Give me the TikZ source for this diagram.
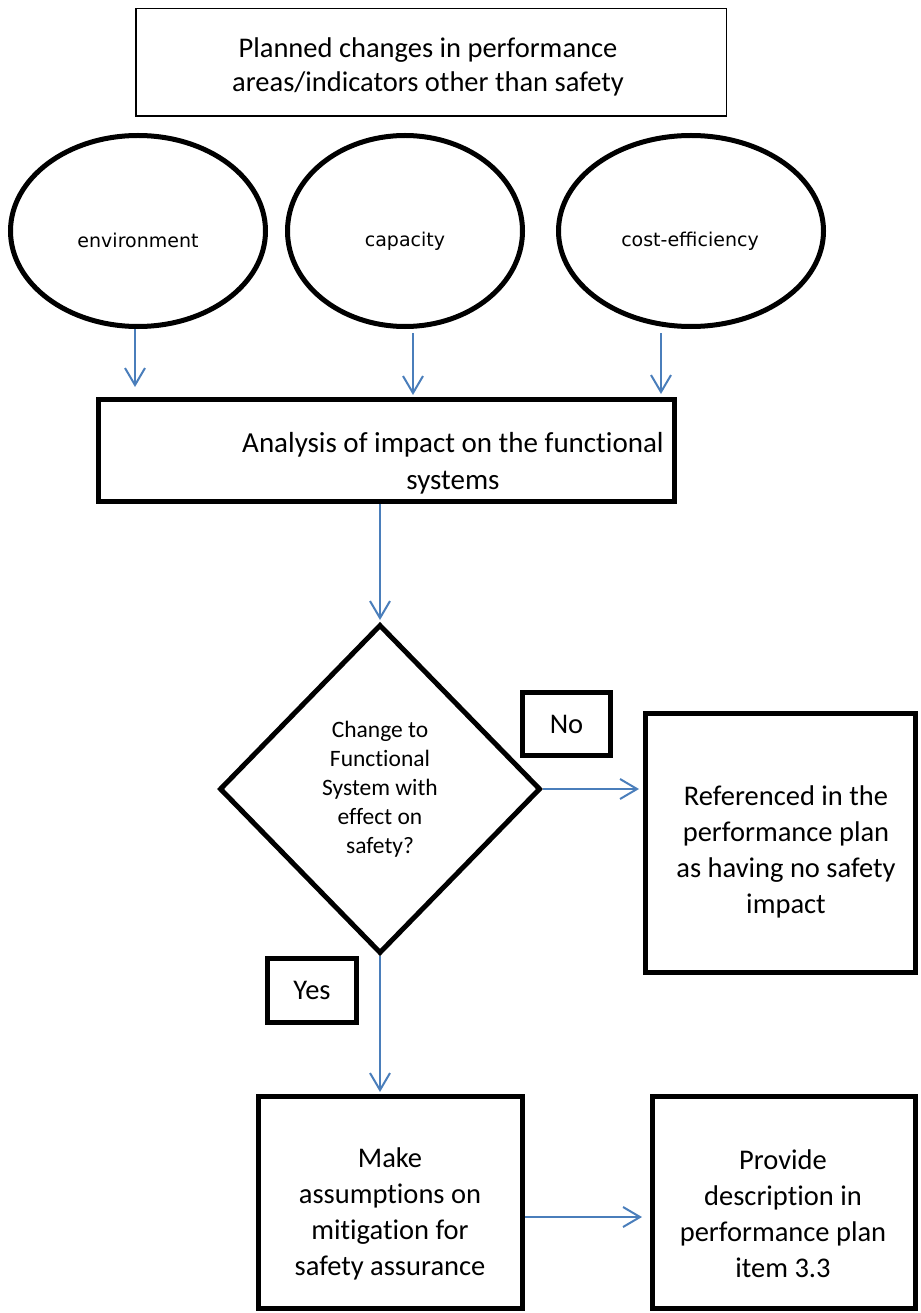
\documentclass[tikz,border=0pt]{standalone}
\usepackage{fontspec}
\setmainfont{Carlito}[Ligatures=NoCommon]
\newfontfamily\ovalfont{DejaVu Sans}
\usetikzlibrary{shapes.geometric,arrows.meta}
\pgfdeclarelayer{edgelayer}
\pgfdeclarelayer{nodelayer}
\pgfsetlayers{edgelayer,nodelayer,main}
\definecolor{flowblue}{RGB}{74,126,187}
\tikzstyle{none}=[inner sep=0pt]
\tikzstyle{thinbox}=[draw,line width=1.5pt,inner sep=0pt]
\tikzstyle{box}=[draw,line width=5pt,inner sep=0pt]
\tikzstyle{oval}=[ellipse,draw,line width=5pt,inner sep=0pt,minimum height=191pt]
\tikzstyle{decision}=[diamond,draw,line width=5pt,inner sep=0pt,align=center,font=\fontsize{23.5}{29}\selectfont]
\tikzstyle{bigtext}=[inner sep=0pt,align=center,font=\fontsize{28.5}{36}\selectfont]
\tikzstyle{ovaltext}=[inner sep=0pt,font=\ovalfont\fontsize{19}{23}\selectfont]
\tikzstyle{flow}=[draw=flowblue,line width=2pt,-{Straight Barb[length=17pt,width=20pt]}]

\begin{document}
\begin{tikzpicture}[x=1pt,y=-1pt]
	\useasboundingbox (0,0) rectangle (920,1313);
	\begin{pgfonlayer}{nodelayer}
		\node [style=thinbox, minimum width=590.5pt, minimum height=107.5pt] (0) at (431, 62.5) {};
		\node [style=bigtext, font=\fontsize{28.5}{34}\selectfont] (1) at (428, 67) {Planned changes in performance\\areas/indicators other than safety};
		\node [style=oval, minimum width=255pt] (2) at (138, 231) {};
		\node [style=ovaltext] (3) at (138, 240) {environment};
		\node [style=oval, minimum width=235pt] (4) at (405, 231) {};
		\node [style=ovaltext] (5) at (405, 241) {capacity};
		\node [style=oval, minimum width=265pt] (6) at (691, 231) {};
		\node [style=ovaltext] (7) at (690, 241) {cost-efficiency};
		\node [style=box, minimum width=576pt, minimum height=102pt] (8) at (386.5, 450.5) {};
		\node [style=bigtext, font=\fontsize{29}{37}\selectfont] (9) at (453, 463) {Analysis of impact on the functional\\systems};
		\node [style=decision, minimum width=321pt, minimum height=329pt] (10) at (380, 789) {Change to\\Functional\\System with\\effect on\\safety?};
		\node [style=box, minimum width=88pt, minimum height=63pt, style=bigtext] (11) at (566.5, 724) {No};
		\node [style=box, minimum width=270pt, minimum height=259pt] (12) at (780.5, 843) {};
		\node [style=bigtext] (13) at (786, 852) {Referenced in the\\performance plan\\as having no safety\\impact};
		\node [style=box, minimum width=89pt, minimum height=64pt, style=bigtext] (14) at (312, 990.5) {Yes};
		\node [style=box, minimum width=264pt, minimum height=212pt] (15) at (390.5, 1202.5) {};
		\node [style=bigtext] (16) at (390, 1214) {Make\\assumptions on\\mitigation for\\safety assurance};
		\node [style=box, minimum width=263pt, minimum height=212pt] (17) at (784, 1202.5) {};
		\node [style=bigtext] (18) at (783, 1214) {Provide\\description in\\performance plan\\item 3.3};
	\end{pgfonlayer}
	\begin{pgfonlayer}{edgelayer}
		\draw [style=flow, shorten >=10pt] ([xshift=-3pt]2.south) to ([xshift=-3pt]2.south |- 8.north);
		\draw [style=flow, shorten <=4pt, shorten >=2pt] ([xshift=8pt]4.south) to ([xshift=8pt]4.south |- 8.north);
		\draw [style=flow, shorten <=4pt, shorten >=3pt] ([xshift=-30pt]6.south) to ([xshift=-30pt]6.south |- 8.north);
		\draw [style=flow, shorten >=2pt] (8.south -| 10.north) to (10.north);
		\draw [style=flow, shorten >=4pt] (10.east) to (10.east -| 12.west);
		\draw [style=flow, shorten >=2pt] (10.south) to (10.south |- 15.north);
		\draw [style=flow, shorten >=8pt] ([yshift=-14.5pt]15.east) to ([yshift=-14.5pt]15.east -| 17.west);
	\end{pgfonlayer}
\end{tikzpicture}
\end{document}
